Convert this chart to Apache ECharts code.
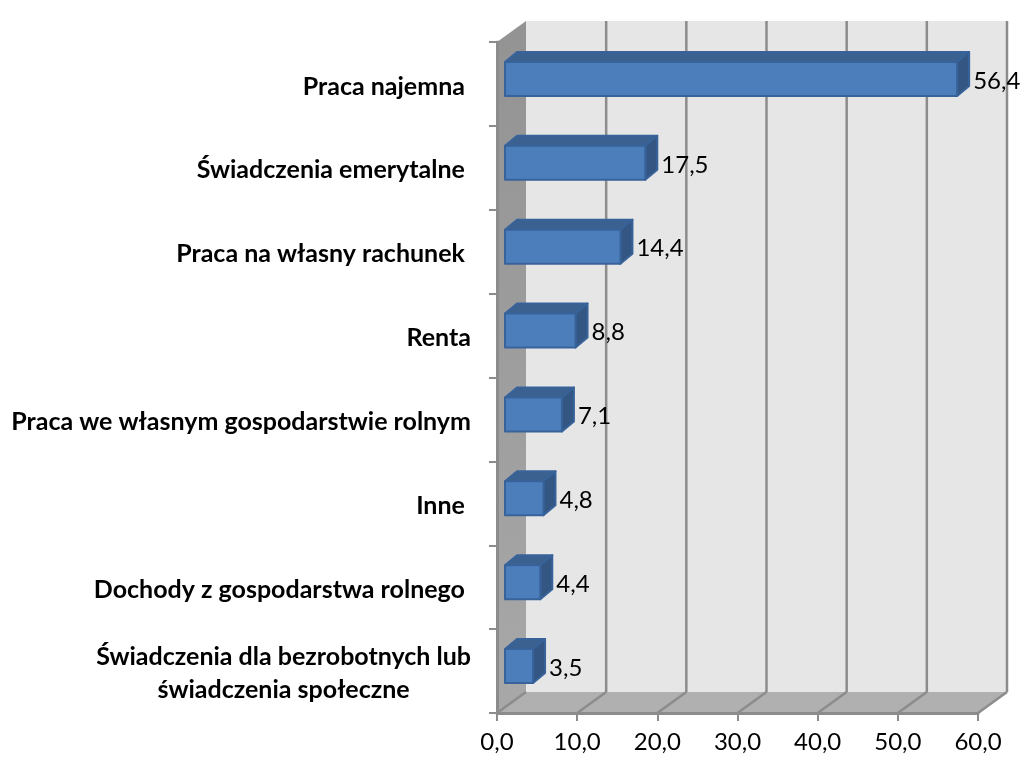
<!DOCTYPE html>
<html>
<head>
<meta charset="utf-8">
<style>html,body{margin:0;padding:0;background:#fff}#chart{width:1022px;height:758px}</style>
<script src="https://cdn.jsdelivr.net/npm/echarts@6/dist/echarts.min.js"></script>
</head>
<body>
<div id="chart"></div>
<script>
// trailing spaces are in the original labels, they shift the right edge
const categories = [
  'Praca najemna ',
  'Świadczenia emerytalne ',
  'Praca na własny rachunek ',
  'Renta',
  'Praca we własnym gospodarstwie rolnym',
  'Inne ',
  'Dochody z gospodarstwa rolnego ',
  'Świadczenia dla bezrobotnych lub\nświadczenia społeczne'
];
const values = [56.4, 17.5, 14.4, 8.8, 7.1, 4.8, 4.4, 3.5];
const xTicks = [0, 10, 20, 30, 40, 50, 60];

const fmt = v => v.toFixed(1).replace('.', ',');
const GREY = '#8c8c8c';
const WALL_DX = 29, WALL_DY = 21;   // depth of the box
const BAR_DX = 12, BAR_DY = 10;     // depth of a bar
const BAR_X = 8, BAR_Y = 5;         // bars stand a bit inside the box
const BAR_H = 34;

function renderWalls(params, api) {
  const c = params.coordSys;
  const l = c.x, r = c.x + c.width, t = c.y, b = c.y + c.height;
  return {
    type: 'group',
    children: [
      { type: 'rect', shape: { x: l + WALL_DX, y: t - WALL_DY, width: c.width, height: c.height },
        style: { fill: '#e6e6e6' } },
      { type: 'polygon', shape: { points: [[l, t], [l + WALL_DX, t - WALL_DY], [l + WALL_DX, b - WALL_DY], [l, b]] },
        style: { fill: new echarts.graphic.LinearGradient(0, 0, 0, 1, [
          { offset: 0, color: '#939393' }, { offset: 1, color: '#a8a8a8' }]) } },
      { type: 'polygon', shape: { points: [[l, b], [l + WALL_DX, b - WALL_DY], [r + WALL_DX, b - WALL_DY], [r, b]] },
        style: { fill: '#b0b0b0' } }
    ]
  };
}

function renderGridLine(params, api) {
  const c = params.coordSys;
  const x = api.coord([api.value(0), 0])[0];
  const t = c.y, b = c.y + c.height;
  const lineStyle = { stroke: GREY, lineWidth: 2.5, fill: null };
  const children = [
    { type: 'polyline', shape: { points: [[x, b], [x + WALL_DX, b - WALL_DY]] }, style: lineStyle }
  ];
  if (api.value(0) > 0) {
    children.push({ type: 'line', shape: { x1: x + WALL_DX, y1: t - WALL_DY, x2: x + WALL_DX, y2: b - WALL_DY }, style: lineStyle });
  }
  return { type: 'group', children };
}

function renderBar(params, api) {
  const v = api.value(0);
  const idx = api.value(1);
  const start = api.coord([0, idx]);
  const end = api.coord([v, idx]);
  const x0 = start[0] + BAR_X, x1 = end[0] + BAR_X;
  const y0 = start[1] - BAR_Y - BAR_H / 2, y1 = y0 + BAR_H;
  const edge = { stroke: '#38639a', lineWidth: 2, lineJoin: 'round' };
  return {
    type: 'group',
    children: [
      { type: 'polygon', shape: { points: [[x0, y0], [x0 + BAR_DX, y0 - BAR_DY], [x1 + BAR_DX, y0 - BAR_DY], [x1, y0]] },
        style: Object.assign({ fill: '#3a618f' }, edge) },
      { type: 'polygon', shape: { points: [[x1, y0], [x1 + BAR_DX, y0 - BAR_DY], [x1 + BAR_DX, y1 - BAR_DY], [x1, y1]] },
        style: Object.assign({ fill: '#335683' }, edge) },
      { type: 'rect', shape: { x: x0, y: y0, width: x1 - x0, height: BAR_H },
        style: Object.assign({ fill: '#4c7ebc' }, edge) },
      { type: 'text', style: { text: fmt(v), x: x1 + BAR_DX + 4, y: (y0 + y1) / 2 + 2, align: 'left', verticalAlign: 'middle',
        fill: '#000', font: '24px Lato' } }
    ]
  };
}

const chart = echarts.init(document.getElementById('chart'), null, { renderer: 'canvas' });
chart.setOption({
  animation: false,
  backgroundColor: '#fff',
  grid: { left: 497, right: 44, top: 42, bottom: 45, containLabel: false },
  xAxis: {
    type: 'value', min: 0, max: 60, interval: 10, z: 5,
    axisLine: { show: true, lineStyle: { color: GREY, width: 3 } },
    axisTick: { show: true, length: 8, lineStyle: { color: GREY, width: 2 } },
    splitLine: { show: false },
    axisLabel: { formatter: fmt, color: '#000', fontFamily: 'Lato', fontSize: 24, margin: 17 }
  },
  yAxis: {
    type: 'category', inverse: true, data: categories, z: 5,
    axisLine: { show: true, lineStyle: { color: GREY, width: 3 } },
    axisTick: { show: true, length: 8, alignWithLabel: false, lineStyle: { color: GREY, width: 2 } },
    axisLabel: {
      margin: 26, color: '#000', fontFamily: 'Lato', fontWeight: 'bold', fontSize: 25, lineHeight: 33, interval: 0,
      padding: [5, 0, 0, 0],
      formatter: v => v.includes('\n') ? v.split('\n').map(s => '{c|' + s + '}').join('\n') : v,
      rich: { c: { align: 'center', fontFamily: 'Lato', fontWeight: 'bold', fontSize: 25, lineHeight: 33, color: '#000' } }
    }
  },
  series: [
    { type: 'custom', z: 1, silent: true, data: [[0, 0]], renderItem: renderWalls },
    { type: 'custom', z: 2, silent: true, data: xTicks.map(t => [t, 0]), renderItem: renderGridLine },
    { type: 'custom', z: 6, silent: true, data: values.map((v, i) => [v, i]), renderItem: renderBar, encode: { x: 0, y: 1 } }
  ]
});
</script>
</body>
</html>
